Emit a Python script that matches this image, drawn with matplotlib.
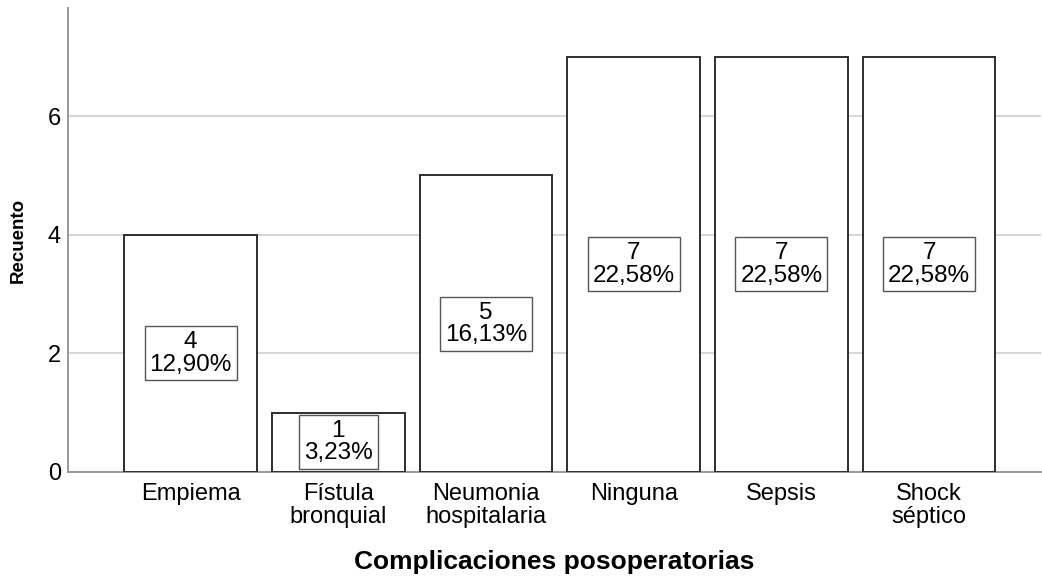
import matplotlib
matplotlib.use("Agg")
import matplotlib.pyplot as plt

# Recuento de complicaciones posoperatorias
categorias = ["Empiema", "Fístula\nbronquial", "Neumonia\nhospitalaria",
              "Ninguna", "Sepsis", "Shock\nséptico"]
recuentos = [4, 1, 5, 7, 7, 7]
porcentajes = ["12,90%", "3,23%", "16,13%", "22,58%", "22,58%", "22,58%"]
yticks = [0, 2, 4, 6]

plt.rcParams["font.family"] = ["Liberation Sans", "DejaVu Sans"]

fig = plt.figure(figsize=(10.42, 5.77), dpi=100)
ax = fig.add_axes([0.0653, 0.182, 0.934, 0.804])

x = list(range(len(categorias)))
ax.bar(x, recuentos, width=0.9, color="white", edgecolor="#2e2e2e",
       linewidth=1.4, zorder=3)

for xi, n, pct in zip(x, recuentos, porcentajes):
    ax.text(xi, n / 2, f"{n}\n{pct}", ha="center", va="center",
            fontsize=17.5, linespacing=1.02, zorder=4,
            bbox=dict(boxstyle="square,pad=0.2", facecolor="white",
                      edgecolor="#555555", linewidth=1.0))

ax.set_xlim(-0.83, 5.76)
ax.set_ylim(0, 7.82)
ax.set_yticks(yticks)
ax.set_yticklabels([str(t) for t in yticks])
ax.set_xticks(x)
ax.set_xticklabels(categorias, linespacing=1.05)

ax.grid(axis="y", color="#d0d0d0", linewidth=1.2, zorder=0)
ax.set_axisbelow(True)

for side in ("top", "right"):
    ax.spines[side].set_visible(False)
ax.spines["left"].set_color("#999999")
ax.spines["left"].set_linewidth(1.4)
ax.spines["bottom"].set_color("#999999")
ax.spines["bottom"].set_linewidth(1.4)

ax.tick_params(axis="both", length=0, labelsize=17, colors="black")
ax.tick_params(axis="y", pad=5)
ax.tick_params(axis="x", pad=8)

ax.set_xlabel("Complicaciones posoperatorias", fontsize=19, fontweight="bold",
              labelpad=16)
ax.set_ylabel("Recuento", fontsize=13.5, fontweight="bold", labelpad=15)

fig.savefig("out.png", dpi=100, facecolor="white")
